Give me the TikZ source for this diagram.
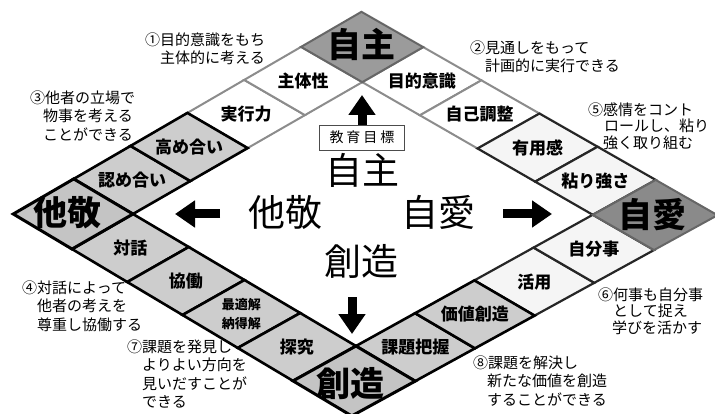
\documentclass[tikz,border=0pt]{standalone}
\usepackage{fontspec}
\setmainfont{Noto Sans CJK JP}
\usetikzlibrary{arrows.meta,calc}
\definecolor{cgray}{HTML}{CDCDCD}
\definecolor{cpale}{HTML}{F5F5F5}
\definecolor{ctop}{HTML}{9B9B9B}
\definecolor{cright}{HTML}{8A8A8A}
\definecolor{cside}{HTML}{C4C4C4}
\definecolor{lgray}{HTML}{8C8C8C}
\newcommand\bilin[2]{%
 \pgfmathsetmacro\bx{(1-(#1))*(1-(#2))*73+(#1)*(1-(#2))*362+(1-(#1))*(#2)*354+(#1)*(#2)*655}%
 \pgfmathsetmacro\by{(1-(#1))*(1-(#2))*214+(#1)*(1-(#2))*47+(1-(#1))*(#2)*381+(#1)*(#2)*215}}
\newcommand\quadpath[6]{%
 \bilin{#2}{#3}\coordinate (#6-a) at (\bx,\by);
 \bilin{#4}{#3}\coordinate (#6-b) at (\bx,\by);
 \bilin{#4}{#5}\coordinate (#6-c) at (\bx,\by);
 \bilin{#2}{#5}\coordinate (#6-d) at (\bx,\by);
 \draw[#1] (#6-a) -- (#6-b) -- (#6-c) -- (#6-d) -- cycle;}
\newcommand\mycell[7]{\quadpath{#1}{#2}{#3}{#4}{#5}{#6}\node[lbl] (#6) at ($(#6-a)!0.5!(#6-c)$) {#7};}
\begin{document}
\begin{tikzpicture}[x=1pt,y=-1pt,
  cellw/.style={draw=lgray, line width=2pt, fill=white},
  cellp/.style={draw=black!85, line width=2.2pt, fill=cpale},
  cellg/.style={draw=black, line width=2.6pt, fill=cgray},
  cornerdark/.style={draw=black!60, line width=2pt},
  cornerlight/.style={draw=black, line width=3pt, fill=cside},
  lbl/.style={font=\bfseries\fontsize{17}{19}\selectfont, inner sep=0pt, align=center},
  note/.style={font=\fontsize{15}{18.5}\selectfont, align=left, inner sep=0pt, anchor=north west},
  notetight/.style={note, font=\fontsize{15}{16.5}\selectfont},
  big/.style={font=\fontsize{37}{40}\selectfont, inner sep=0pt},
  corner/.style={font=\bfseries\fontsize{34}{38}\selectfont, inner sep=0pt},
  blockarrow/.style={line width=9pt, -{Triangle[length=20pt,width=26pt]}}
]
\useasboundingbox (0,0) rectangle (715,414);
\fill[white] (0,0) rectangle (715,414);
% white cells
\mycell{cellw}{0.5}{-0.105}{0.6975}{0.105}{c3}{実行力}
\mycell{cellw}{0.6975}{-0.105}{0.895}{0.105}{c4}{主体性}
\mycell{cellw}{0.895}{0.105}{1.105}{0.3025}{d1}{目的意識}
\mycell{cellw}{0.895}{0.3025}{1.105}{0.5}{d2}{自己調整}
% pale cells
\mycell{cellp}{0.895}{0.5}{1.105}{0.6975}{d3}{有用感}
\mycell{cellp}{0.895}{0.6975}{1.105}{0.895}{d4}{粘り強さ}
\mycell{cellp}{0.5}{0.895}{0.6975}{1.105}{e3}{活用}
\mycell{cellp}{0.6975}{0.895}{0.895}{1.105}{e4}{自分事}
% gray cells
\mycell{cellg}{0.105}{-0.105}{0.3025}{0.105}{c1}{認め合い}
\mycell{cellg}{0.3025}{-0.105}{0.5}{0.105}{c2}{高め合い}
\mycell{cellg}{-0.105}{0.105}{0.105}{0.3025}{f1}{対話}
\mycell{cellg}{-0.105}{0.3025}{0.105}{0.5}{f2}{協働}
\mycell{cellg}{-0.105}{0.5}{0.105}{0.6975}{f3}{\fontsize{13}{15}\selectfont 最適解\\\fontsize{13}{15}\selectfont 納得解}
\mycell{cellg}{-0.105}{0.6975}{0.105}{0.895}{f4}{探究}
\mycell{cellg}{0.105}{0.895}{0.3025}{1.105}{e1}{課題把握}
\mycell{cellg}{0.3025}{0.895}{0.5}{1.105}{e2}{価値創造}
% corner diamonds
\quadpath{cornerdark, fill=ctop}{0.895}{-0.105}{1.105}{0.105}{kt}
\quadpath{cornerdark, fill=cright}{0.895}{0.895}{1.105}{1.105}{kr}
\quadpath{cornerlight}{-0.105}{-0.105}{0.105}{0.105}{kl}
\quadpath{cornerlight}{-0.105}{0.895}{0.105}{1.105}{kb}
\node[corner] (jishu) at (361,44) {自主};
\node[corner] (takei) at (68,213) {他敬};
\node[corner] (jiai) at (652,215) {自愛};
\node[corner] (sozo) at (350,384) {創造};
% centre
\node[draw=black!70, line width=0.8pt, minimum width=85pt, minimum height=25pt, inner sep=0pt,
  font=\fontsize{14}{16}\selectfont] (goal) at (362,137.5) {教\hspace{3pt}育\hspace{3pt}目\hspace{3pt}標};
\node[big] (m1) at (362,170) {自主};
\node[big] (m2) at (285,212) {他敬};
\node[big] (m3) at (438,212) {自愛};
\node[big] (m4) at (361,261) {創造};
\coordinate (uptip) at (362,95);
\coordinate (ltail) at (220,214);
\coordinate (ltip) at (175,214);
\coordinate (rtail) at (503,214);
\coordinate (rtip) at (552,214);
\coordinate (dtail) at (352,297);
\coordinate (dtip) at (352,334);
\draw[blockarrow] (goal.north) -- (uptip);
\draw[blockarrow] (ltail) -- (ltip);
\draw[blockarrow] (rtail) -- (rtip);
\draw[blockarrow] (dtail) -- (dtip);
% notes
\node[note] (n1) at (145,32.5) {①目的意識をもち\\\hspace*{15pt}主体的に考える};
\node[note] (n2) at (470,40.5) {②見通しをもって\\\hspace*{15pt}計画的に実行できる};
\node[note] (n3) at (30,90.5) {③他者の立場で\\\hspace*{13pt}物事を考える\\\hspace*{13pt}ことができる};
\node[note] (n4) at (22,280.5) {④対話によって\\\hspace*{15pt}他者の考えを\\\hspace*{15pt}尊重し協働する};
\node[notetight] (n5) at (588,102.5) {⑤感情をコント\\\hspace*{16pt}ロールし、粘り\\\hspace*{15pt}強く取り組む};
\node[notetight] (n6) at (598,287.5) {⑥何事も自分事\\\hspace*{15pt}として捉え\\\hspace*{14pt}学びを活かす};
\node[note] (n7) at (127,339.5) {⑦課題を発見し\\\hspace*{15pt}よりよい方向を\\\hspace*{15pt}見いだすことが\\\hspace*{15pt}できる};
\node[note] (n8) at (473,355.5) {⑧課題を解決し\\\hspace*{14pt}新たな価値を創造\\\hspace*{14pt}することができる};
\end{tikzpicture}
\end{document}
